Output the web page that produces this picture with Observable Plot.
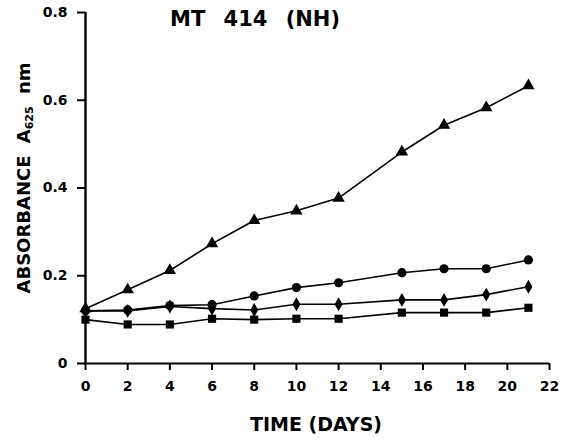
<!DOCTYPE html>
<html>
<head>
<meta charset="utf-8">
<script src="https://cdn.jsdelivr.net/npm/d3@7"></script>
<script src="https://cdn.jsdelivr.net/npm/@observablehq/plot@0.6"></script>
<style>
  html, body { margin: 0; padding: 0; background: #fff; }
  #wrap { position: relative; width: 578px; height: 442px; font-family: "DejaVu Sans", sans-serif; font-weight: bold; color: #000; }
  #title { position: absolute; left: 170px; top: 7px; font-size: 21px; word-spacing: 11px; white-space: pre; }
  #xlabel { position: absolute; left: 250px; top: 413px; font-size: 19px; white-space: pre; }
  #ylabel { position: absolute; left: 24px; top: 178px; font-size: 18px; white-space: pre; transform: translate(-50%, -50%) rotate(-90deg); word-spacing: 6px; }
  #ylabel sub { font-size: 11px; vertical-align: -3px; word-spacing: 0; }
  svg { position: absolute; left: 0; top: 0; }
</style>
</head>
<body>
<div id="wrap">
  <div id="chart"></div>
  <div id="title">MT 414 (NH)</div>
  <div id="ylabel">ABSORBANCE A<sub>625</sub> nm</div>
  <div id="xlabel">TIME (DAYS)</div>
</div>
<script>
const days = [0, 2, 4, 6, 8, 10, 12, 15, 17, 19, 21];
const triangleSeries = [0.125, 0.168, 0.212, 0.273, 0.326, 0.348, 0.377, 0.482, 0.543, 0.583, 0.633];
const circleSeries   = [0.120, 0.122, 0.132, 0.134, 0.154, 0.173, 0.184, 0.207, 0.216, 0.216, 0.236];
const diamondSeries  = [0.120, 0.120, 0.130, 0.125, 0.122, 0.135, 0.135, 0.145, 0.145, 0.157, 0.175];
const squareSeries   = [0.100, 0.089, 0.089, 0.102, 0.100, 0.102, 0.102, 0.116, 0.116, 0.116, 0.127];
const xTicks = [0, 2, 4, 6, 8, 10, 12, 14, 16, 18, 20, 22];
const yTicks = [0, 0.2, 0.4, 0.6, 0.8];

const seriesDefs = [
  {name: "triangle", values: triangleSeries, symbol: "triangle", r: 4.6},
  {name: "circle", values: circleSeries, symbol: "circle", r: 4.6},
  {name: "diamond", values: diamondSeries, symbol: "diamond", r: 4.2},
  {name: "square", values: squareSeries, symbol: "square", r: 4.6}
];
const rows = seriesDefs.flatMap(s => days.map((d, i) => ({series: s.name, day: d, value: s.values[i]})));

const chart = Plot.plot({
  width: 578,
  height: 442,
  marginLeft: 85,
  marginRight: 29,
  marginTop: 12,
  marginBottom: 79,
  style: {fontFamily: "DejaVu Sans, sans-serif", fontWeight: "bold", fontSize: "14px", color: "#000", background: "#fff"},
  x: {domain: [0, 22]},
  y: {domain: [0, 0.8]},
  marks: [
    Plot.axisX({ticks: xTicks, tickSize: 7, tickPadding: 11, label: null, strokeWidth: 2, fontSize: 14}),
    Plot.axisY({ticks: yTicks, tickSize: 8, tickPadding: 10, label: null, strokeWidth: 2, fontSize: 14,
      tickFormat: d => d === 0 ? "0" : d.toFixed(1)}),
    Plot.ruleY([0], {stroke: "#000", strokeWidth: 2}),
    Plot.ruleX([0], {stroke: "#000", strokeWidth: 2.4}),
    ...seriesDefs.map(s => Plot.line(rows.filter(r => r.series === s.name), {x: "day", y: "value", stroke: "#000", strokeWidth: 1.6})),
    ...seriesDefs.map(s => Plot.dot(rows.filter(r => r.series === s.name), {x: "day", y: "value", symbol: () => s.symbol, r: s.r, fill: "#000", stroke: "none"}))
  ]
});
document.getElementById("chart").appendChild(chart);
</script>
</body>
</html>
